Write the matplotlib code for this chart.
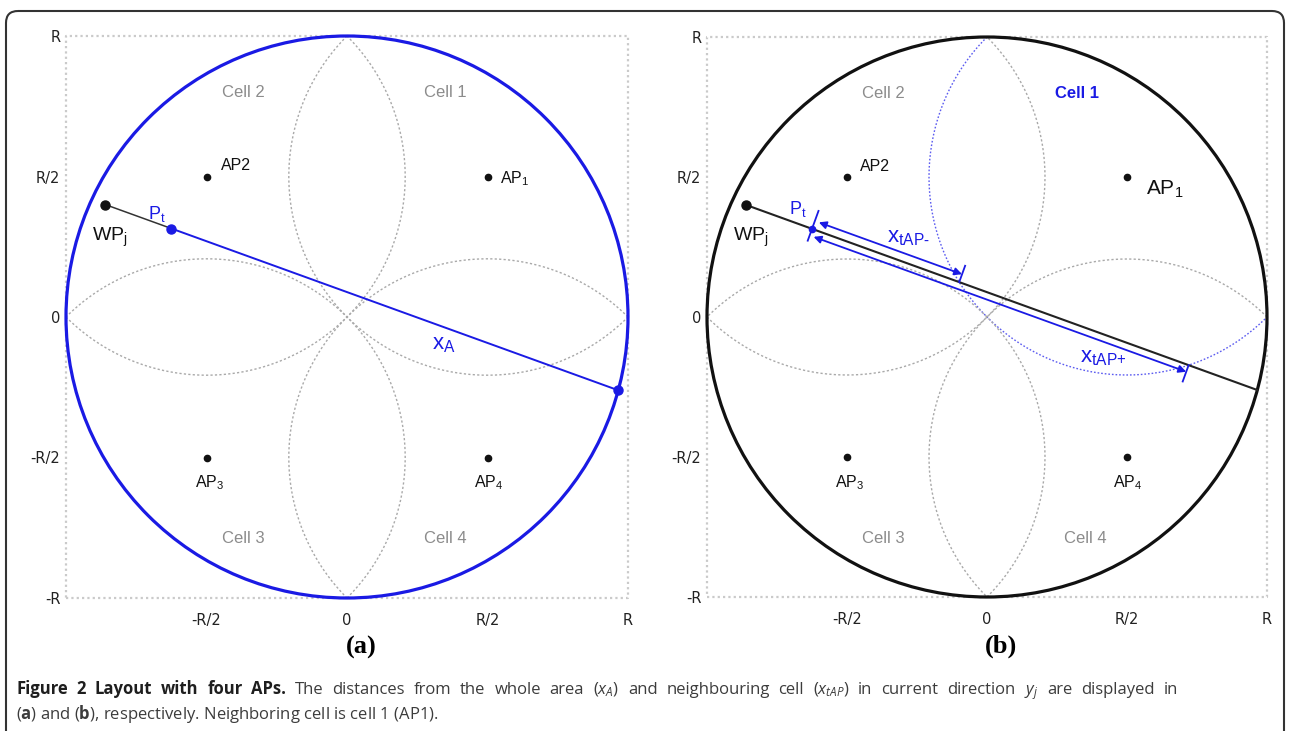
import numpy as np
import matplotlib
matplotlib.use('Agg')
import matplotlib.pyplot as plt
from matplotlib.patches import Circle, FancyBboxPatch

# ---------------- data (units of R) ----------------
ap_names = [r'$\mathregular{AP_1}$', 'AP2', r'$\mathregular{AP_3}$', r'$\mathregular{AP_4}$']
ap_x = [0.5, -0.5, -0.5, 0.5]
ap_y = [0.5, 0.5, -0.5, -0.5]
cell_names = ['Cell 1', 'Cell 2', 'Cell 3', 'Cell 4']
cell_label_x = [0.35, -0.37, -0.37, 0.35]
cell_label_y = [0.80, 0.80, -0.79, -0.79]
cell_radius = np.sqrt(0.5)
area_radius = 1.0
wp = np.array([-0.86, 0.40])      # waypoint WP_j
heading_deg = -19.9               # current direction y_j
pt_dist = 0.25                    # distance WP_j -> P_t
neighbour = 0                     # neighbouring cell index (cell 1 / AP1)
xtick_vals = [-0.5, 0, 0.5, 1]
xtick_labels = ['-R/2', '0', 'R/2', 'R']
ytick_vals = [-1, -0.5, 0, 0.5, 1]
ytick_labels = ['-R', '-R/2', '0', 'R/2', 'R']

caption_bold = 'Figure 2 Layout with four APs.'
caption_rest = (r'The distances from the whole area ($\mathit{x_A}$) and neighbouring cell '
                r'($\mathit{x_{tAP}}$) in current direction $\mathit{y_j}$ are displayed in')
caption_line2 = r'($\mathbf{a}$) and ($\mathbf{b}$), respectively. Neighboring cell is cell 1 (AP1).'

# ---------------- style ----------------
plt.rcParams['font.family'] = ['Open Sans', 'DejaVu Sans']
plt.rcParams['mathtext.fontset'] = 'custom'
plt.rcParams['mathtext.rm'] = 'Open Sans'
plt.rcParams['mathtext.it'] = 'Open Sans:italic'
plt.rcParams['mathtext.bf'] = 'Open Sans:bold'
DIAG = 'Liberation Sans'
BLUE = '#1a1ae4'
LBLUE = '#5c5cf0'
GRAY = '#a9a9a9'
SQ = '#cacaca'
CELLC = '#8c8c8c'

# ---------------- geometry ----------------
d = np.array([np.cos(np.radians(heading_deg)), np.sin(np.radians(heading_deg))])
perp = np.array([-d[1], d[0]])
pt = wp + pt_dist * d


def hits(center, r):
    q = wp - np.asarray(center)
    b = q @ d
    c = q @ q - r * r
    s = np.sqrt(b * b - c)
    return -b - s, -b + s


t_end = hits((0, 0), area_radius)[1]
end = wp + t_end * d
t_in, t_out = hits((ap_x[neighbour], ap_y[neighbour]), cell_radius)
entry = wp + t_in * d
exitp = wp + t_out * d

fig = plt.figure(figsize=(12.89, 7.31), dpi=100)

bg = fig.add_axes([0, 0, 1, 1])
bg.set_xlim(0, 1289)
bg.set_ylim(731, 0)
bg.axis('off')
bg.add_patch(FancyBboxPatch((6, 11), 1278, 740, boxstyle='round,pad=0,rounding_size=12',
                            fill=False, ec='#333333', lw=1.5, clip_on=False))


def panel(rect):
    ax = fig.add_axes(rect)
    ax.set_xlim(-1, 1)
    ax.set_ylim(-1, 1)
    ax.patch.set_visible(False)
    for s in ax.spines.values():
        s.set_visible(False)
    ax.set_xticks(xtick_vals, xtick_labels)
    ax.set_yticks(ytick_vals, ytick_labels)
    ax.tick_params(length=0, labelsize=10.5, colors='#222222')
    ax.tick_params(axis='x', pad=11)
    ax.tick_params(axis='y', pad=4)
    for t in ax.get_xticklabels() + ax.get_yticklabels():
        t.set_fontfamily('DejaVu Sans')
    ax.plot([-1, 1, 1, -1, -1], [-1, -1, 1, 1, -1], color=SQ, lw=1.6,
            ls=(0, (1, 1.4)), clip_on=False, zorder=1)
    return ax


def cell_arc(ax, i, color, ls):
    phi0 = np.arctan2(-ap_y[i], -ap_x[i])
    phi = np.linspace(phi0 - np.pi / 2, phi0 + np.pi / 2, 400)
    ax.plot(ap_x[i] + cell_radius * np.cos(phi), ap_y[i] + cell_radius * np.sin(phi),
            color=color, lw=1.0, ls=ls, clip_on=False, zorder=2)


def lab(ax, s, xy, off, ha='left', size=11.5, color='#111111', **kw):
    ax.annotate(s, xy=xy, xytext=off, textcoords='offset pixels', ha=ha, va='baseline',
                fontsize=size, color=color, family=DIAG, annotation_clip=False, zorder=6, **kw)


ax_a = panel([66 / 1289, 133 / 731, 562 / 1289, 562 / 731])
ax_b = panel([707 / 1289, 134 / 731, 560 / 1289, 560 / 731])

ap_off_a = [(12, -7, 'left', 11.5), (14, 6, 'left', 11.5), (3, -30, 'center', 11.5), (1, -30, 'center', 11.5)]
ap_off_b = [(19, -18, 'left', 15), (13, 6, 'left', 11.5), (3, -30, 'center', 11.5), (1, -30, 'center', 11.5)]

for ax, offs, circ_col in [(ax_a, ap_off_a, BLUE), (ax_b, ap_off_b, '#111111')]:
    for i in range(4):
        if ax is ax_b and i == neighbour:
            cell_arc(ax, i, LBLUE, (0, (1.2, 1.4)))
        else:
            cell_arc(ax, i, GRAY, (0, (1.6, 1.6)))
    ax.add_patch(Circle((0, 0), area_radius, fill=False, ec=circ_col, lw=2.3, clip_on=False, zorder=3))
    ax.plot(ap_x, ap_y, 'o', color='#111111', ms=4.5, clip_on=False, zorder=5)
    for i in range(4):
        dx, dy, ha, sz = offs[i]
        lab(ax, ap_names[i], (ap_x[i], ap_y[i]), (dx, dy), ha=ha, size=sz)
    for i in range(4):
        if ax is ax_b and i == neighbour:
            ax.text(0.32, cell_label_y[i], cell_names[i], color=BLUE, fontsize=12, weight='bold',
                    family=DIAG, ha='center', va='center', zorder=6)
        else:
            ax.text(cell_label_x[i], cell_label_y[i], cell_names[i], color=CELLC, fontsize=12,
                    family=DIAG, ha='center', va='center', zorder=6)
    ax.plot([wp[0]], [wp[1]], 'o', color='#111111', ms=6.5, clip_on=False, zorder=5)
    lab(ax, r'$\mathregular{WP_j}$', wp, (-13, -36), size=14)

# ----- panel (a) -----
ax_a.plot([wp[0], pt[0]], [wp[1], pt[1]], color='#333333', lw=1.1, clip_on=False, zorder=4)
ax_a.plot([pt[0], end[0]], [pt[1], end[1]], color=BLUE, lw=1.4, clip_on=False, zorder=4)
ax_a.plot([pt[0], end[0]], [pt[1], end[1]], 'o', color=BLUE, ms=6.5, clip_on=False, zorder=5)
lab(ax_a, r'$\mathregular{P_t}$', pt, (-23, 10), size=13, color=BLUE)
ax_a.text(0.302, -0.114, r'$\mathregular{x_A}$', color=BLUE, fontsize=16, family=DIAG,
          ha='left', va='baseline', zorder=6)
ax_a.text(0.05, -1.175, '(a)', family='Liberation Serif', weight='bold', fontsize=19,
          ha='center', va='center')

# ----- panel (b) -----
ax_b.plot([wp[0], end[0]], [wp[1], end[1]], color='#222222', lw=1.5, clip_on=False, zorder=4)
ax_b.plot([pt[0]], [pt[1]], 'o', color=BLUE, ms=4.5, clip_on=False, zorder=5)
lab(ax_b, r'$\mathregular{P_t}$', pt, (-23, 15), size=13, color=BLUE)
up_off, dn_off = 0.03, 0.025
aprops = dict(arrowstyle='<|-|>', color=BLUE, lw=1.3, mutation_scale=11, shrinkA=0, shrinkB=0)
s0 = pt + 0.015 * d
ax_b.annotate('', xy=entry + perp * up_off, xytext=s0 + perp * up_off, arrowprops=aprops,
              annotation_clip=False, zorder=5)
ax_b.annotate('', xy=exitp - perp * dn_off, xytext=s0 - perp * dn_off, arrowprops=aprops,
              annotation_clip=False, zorder=5)
for a, b in [(pt + perp * 0.068, pt - perp * 0.045),
             (entry, entry + perp * 0.062),
             (exitp, exitp - perp * 0.062)]:
    ax_b.plot([a[0], b[0]], [a[1], b[1]], color=BLUE, lw=1.3, clip_on=False, zorder=5)
ax_b.text(-0.357, 0.268, r'$\mathregular{x_{tAP\text{-}}}$', color=BLUE, fontsize=16, family=DIAG,
          ha='left', va='baseline', zorder=6)
ax_b.text(0.332, -0.161, r'$\mathregular{x_{tAP\text{+}}}$', color=BLUE, fontsize=16, family=DIAG,
          ha='left', va='baseline', zorder=6)
ax_b.text(0.05, -1.175, '(b)', family='Liberation Serif', weight='bold', fontsize=19,
          ha='center', va='center')

# ----- caption (line 1 justified, line 2 natural) -----
CAP = 12
X0, X1 = 16, 1178
renderer = fig.canvas.get_renderer()


def split_words(s):
    out, cur, inmath = [], '', False
    for ch in s:
        if ch == '$':
            inmath = not inmath
        if ch == ' ' and not inmath:
            if cur:
                out.append(cur)
            cur = ''
        else:
            cur += ch
    if cur:
        out.append(cur)
    return out


tokens = [(w, 'bold', '#1e1e1e') for w in caption_bold.split(' ')] + \
         [(w, 'normal', '#3c3c3c') for w in split_words(caption_rest)]
objs = []
for w, wt, col in tokens:
    objs.append(bg.text(0, 694, w, fontsize=CAP, weight=wt, color=col, ha='left', va='baseline'))
widths = [o.get_window_extent(renderer=renderer).width for o in objs]
gap = (X1 - X0 - sum(widths)) / (len(objs) - 1)
x = X0
for o, wdt in zip(objs, widths):
    o.set_x(x)
    x += wdt + gap
bg.text(X0, 719, caption_line2, fontsize=CAP, color='#3c3c3c', ha='left', va='baseline')

fig.savefig('out.png', dpi=100)
